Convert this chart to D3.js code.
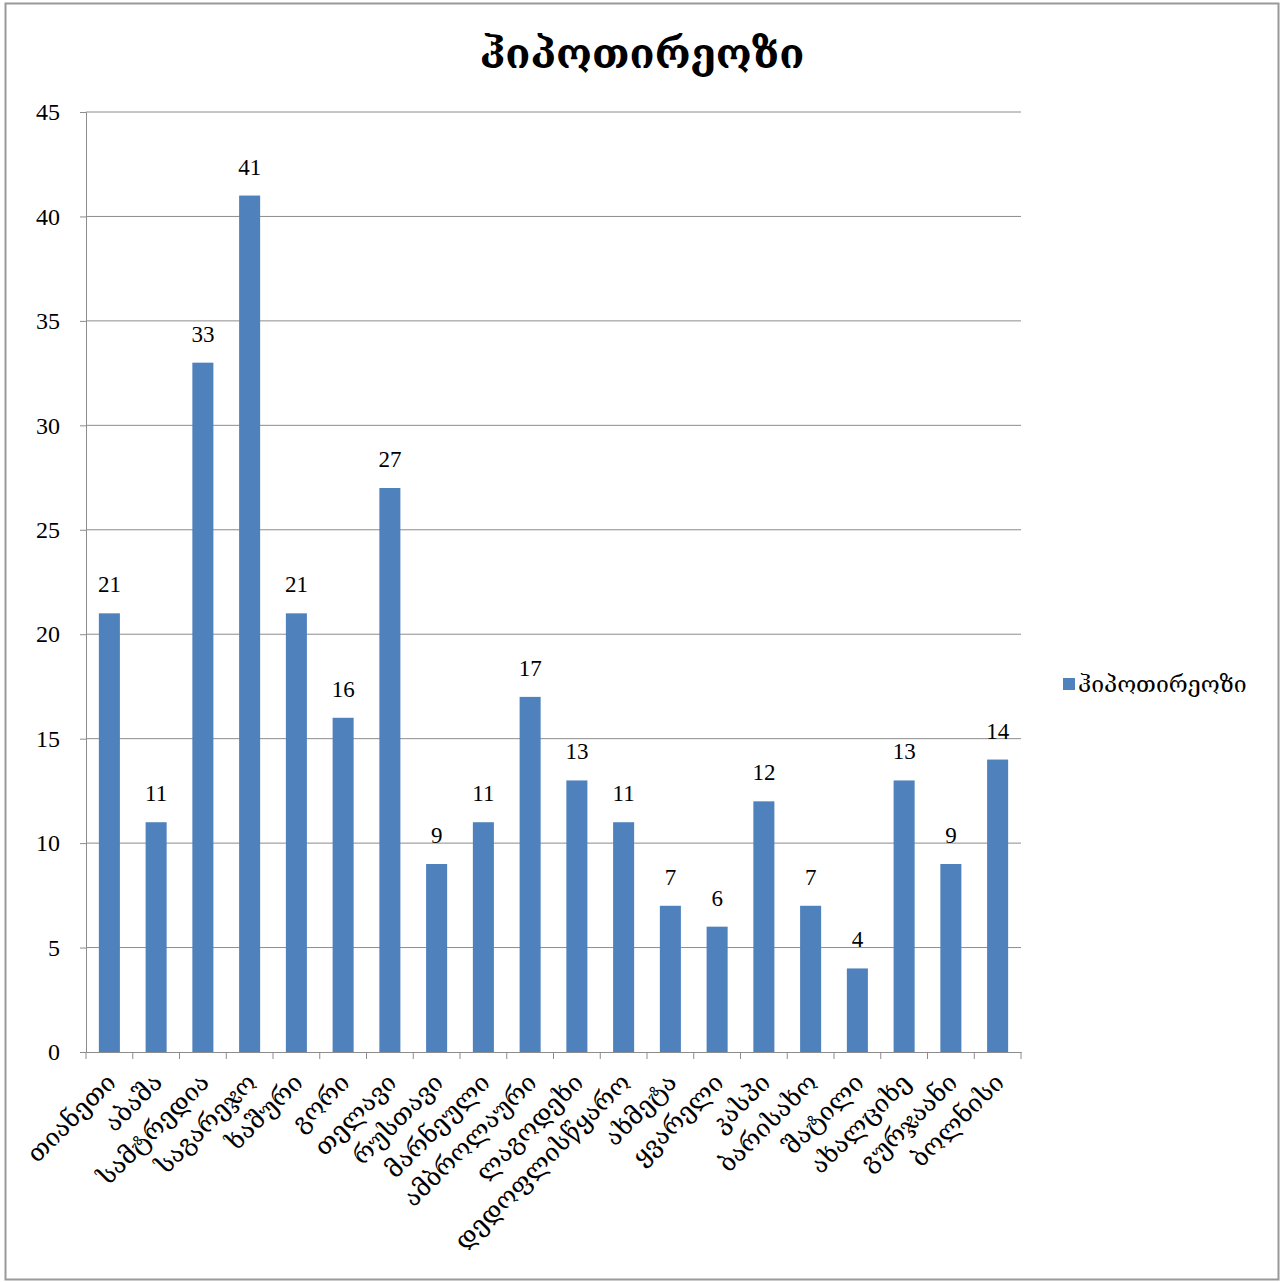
<!DOCTYPE html>
<html><head><meta charset="utf-8">
<script src="https://cdn.jsdelivr.net/npm/d3@7"></script>
<style>body{margin:0;background:#fff}</style>
</head><body>
<svg id="c" width="1285" height="1282"></svg>
<script>
const categories = ["თიანეთი","აბაშა","სამტრედია","საგარეჯო","ხაშური","გორი","თელავი","რუსთავი","მარნეული","ამბროლაური","ლაგოდეხი","დედოფლისწყარო","ახმეტა","ყვარელი","კასპი","ბარისახო","შატილი","ახალციხე","გურჯაანი","ბოლნისი"];
const values = [21,11,33,41,21,16,27,9,11,17,13,11,7,6,12,7,4,13,9,14];
const yTicks = [0,5,10,15,20,25,30,35,40,45];
const seriesName = "ჰიპოთირეოზი";
const title = "ჰიპოთირეოზი";

const svg = d3.select("#c");
const geo = "'DejaVu Serif', 'DejaVu Sans', serif";
const num = "'Liberation Serif', 'DejaVu Serif', serif";

svg.append("rect").attr("x",5.5).attr("y",3.5).attr("width",1273).attr("height",1276)
  .attr("fill","#fff").attr("stroke","#999").attr("stroke-width",2);

const L=86, R=1021, T=112, B=1052;
const x = d3.scaleBand().domain(categories).range([L,R]).paddingInner(0.55).paddingOuter(0.275);
const xb = d3.scaleBand().domain(categories).range([L,R]);
const y = d3.scaleLinear().domain([0,45]).range([B,T]);

// gridlines
svg.append("g").selectAll("line").data(yTicks.filter(d=>d>0)).join("line")
  .attr("x1",L).attr("x2",R).attr("y1",d=>y(d)).attr("y2",d=>y(d))
  .attr("stroke","#8c8c8c").attr("stroke-width",1);

// y axis
const ya = svg.append("g").attr("transform",`translate(${L},0)`)
  .call(d3.axisLeft(y).tickValues(yTicks).tickSize(6).tickPadding(20));
ya.select(".domain").attr("stroke","#8c8c8c");
ya.selectAll(".tick line").attr("stroke","#8c8c8c");
ya.selectAll("text").attr("font-family",num).attr("font-size",24).attr("fill","#000");

// bars
svg.append("g").selectAll("rect").data(values).join("rect")
  .attr("x",(d,i)=>x(categories[i])).attr("width",x.bandwidth())
  .attr("y",d=>y(d)).attr("height",d=>B-y(d)).attr("fill","#4f81bd");

// x axis
const xa = svg.append("g").attr("transform",`translate(0,${B})`)
  .call(d3.axisBottom(xb).tickSize(0).tickFormat(""));
xa.select(".domain").attr("stroke","#8c8c8c");
const bounds = categories.map(c=>xb(c)).concat([R]);
svg.append("g").selectAll("line").data(bounds).join("line")
  .attr("x1",d=>d).attr("x2",d=>d).attr("y1",B).attr("y2",B+7).attr("stroke","#8c8c8c");

// x labels
svg.append("g").selectAll("text").data(categories).join("text")
  .attr("transform",d=>`translate(${xb(d)+xb.bandwidth()/2+8},${B+32}) rotate(-45)`)
  .attr("text-anchor","end").attr("font-family",geo).attr("font-size",25).attr("fill","#000")
  .text(d=>d);

// data labels
svg.append("g").selectAll("text").data(values).join("text")
  .attr("x",(d,i)=>xb(categories[i])+xb.bandwidth()/2).attr("y",d=>y(d)-21)
  .attr("text-anchor","middle").attr("font-family",num).attr("font-size",23).attr("fill","#000")
  .text(d=>d);

// title
svg.append("text").attr("x",642).attr("y",68).attr("text-anchor","middle")
  .attr("font-family",geo).attr("font-weight","bold").attr("font-size",41).text(title);

// legend
svg.append("rect").attr("x",1063).attr("y",678).attr("width",12).attr("height",12).attr("fill","#4f81bd");
svg.append("text").attr("x",1078).attr("y",692).attr("font-family",geo).attr("font-size",23).text(seriesName);
</script>
</body></html>
